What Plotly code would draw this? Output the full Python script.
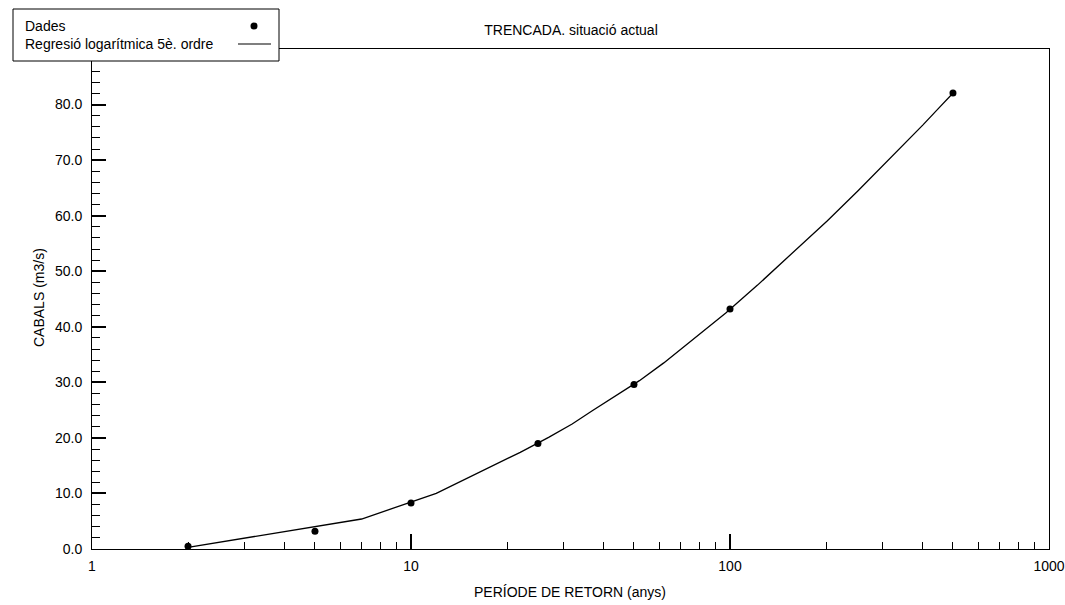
import plotly.graph_objects as go

# ---- data ----
period_data = [2, 5, 10, 25, 50, 100, 500]
flow_data = [0.5, 3.2, 8.3, 19.0, 29.6, 43.2, 82.1]

period_fit = [2, 7, 12, 17, 22, 27, 32, 37, 42, 47, 52, 62, 72, 82, 97,
              122, 152, 202, 252, 302, 352, 402, 452, 497]
flow_fit = [0.3, 5.4, 10.0, 14.2, 17.4, 20.1, 22.5, 24.9, 26.9, 28.6, 30.3,
            33.5, 36.5, 39.1, 42.5, 47.5, 52.5, 59.1, 64.5, 69.0, 72.9,
            76.3, 79.4, 81.9]

x_major_vals = [1, 10, 100, 1000]
x_major_text = ["1", "10", "100", "1000"]
x_minor_vals = [2, 3, 4, 5, 6, 7, 8, 9, 20, 30, 40, 50, 60, 70, 80, 90,
                200, 300, 400, 500, 600, 700, 800, 900]
y_major_vals = [0, 10, 20, 30, 40, 50, 60, 70, 80]
y_major_text = ["%.1f" % v for v in y_major_vals]
y_minor_vals = [v for v in range(2, 90, 2) if v % 10 != 0]

title_text = "TRENCADA. situació actual"
x_title = "PERÍODE DE RETORN (anys)"
y_title = "CABALS (m3/s)"
legend_names = ["Dades", "Regresió logarítmica 5è. ordre"]

FONT = "Liberation Sans, Arial, sans-serif"
FS = 14

fig = go.Figure()
fig.add_trace(go.Scatter(x=period_fit, y=flow_fit, mode="lines",
                         line=dict(color="black", width=1.3),
                         name=legend_names[1], cliponaxis=False,
                         showlegend=False))
fig.add_trace(go.Scatter(x=period_data, y=flow_data, mode="markers",
                         marker=dict(color="black", size=7),
                         name=legend_names[0], cliponaxis=False,
                         showlegend=False))

W, H = 1065, 605
L, R, T, B = 92, 16, 49, 56
pw, ph = W - L - R, H - T - B


def px(xp):
    return (xp - L) / pw


def py(yp):
    return (H - B - yp) / ph


fig.update_layout(
    width=W, height=H,
    margin=dict(l=L, r=R, t=T, b=B, pad=0, autoexpand=False),
    paper_bgcolor="white", plot_bgcolor="white",
    font=dict(family=FONT, size=FS, color="black"),
    showlegend=False,
    title=dict(text=title_text, x=px(571), xref="paper", xanchor="center",
               y=1 - 30 / H, yref="container", yanchor="middle",
               font=dict(family=FONT, size=FS, color="black")),
    xaxis=dict(type="log", range=[0, 3], showgrid=False, zeroline=False,
               automargin=False,
               showline=True, linecolor="black", linewidth=1, mirror=True,
               tickmode="array", tickvals=x_major_vals, ticktext=x_major_text,
               ticks="inside", ticklen=15, tickwidth=2, tickcolor="black",
               ticklabelstandoff=4,
               minor=dict(tickmode="array", tickvals=x_minor_vals,
                          ticks="inside", ticklen=7, tickwidth=1,
                          tickcolor="black", showgrid=False)),
    yaxis=dict(range=[0, 90], showgrid=False, zeroline=False,
               automargin=False,
               showline=True, linecolor="black", linewidth=1, mirror=True,
               tickmode="array", tickvals=y_major_vals, ticktext=y_major_text,
               ticks="inside", ticklen=14, tickwidth=1.5, tickcolor="black",
               ticklabelstandoff=6,
               minor=dict(tickmode="array", tickvals=y_minor_vals,
                          ticks="inside", ticklen=8, tickwidth=1,
                          tickcolor="black", showgrid=False)),
)

# axis titles
fig.add_annotation(text=x_title, xref="paper", yref="paper",
                   x=px(570), y=py(592), xanchor="center", yanchor="middle",
                   showarrow=False, font=dict(family=FONT, size=FS))
fig.add_annotation(text=y_title, xref="paper", yref="paper",
                   x=px(39), y=py(298), xanchor="center", yanchor="middle",
                   textangle=-90, showarrow=False,
                   font=dict(family=FONT, size=FS))

# legend box (symbols on the right, as in the reference)
fig.add_shape(type="rect", xref="paper", yref="paper",
              x0=px(13), x1=px(279), y0=py(61), y1=py(9),
              line=dict(color="black", width=1), fillcolor="white",
              layer="above")
fig.add_annotation(text=legend_names[0], xref="paper", yref="paper",
                   x=px(23), y=py(26), xanchor="left", yanchor="middle",
                   showarrow=False, font=dict(family=FONT, size=FS))
fig.add_annotation(text=legend_names[1], xref="paper", yref="paper",
                   x=px(23), y=py(44), xanchor="left", yanchor="middle",
                   showarrow=False, font=dict(family=FONT, size=FS))
fig.add_shape(type="circle", xref="paper", yref="paper",
              xsizemode="pixel", ysizemode="pixel",
              xanchor=px(254), yanchor=py(26),
              x0=-3.5, x1=3.5, y0=-3.5, y1=3.5,
              fillcolor="black", line=dict(color="black", width=0),
              layer="above")
fig.add_shape(type="line", xref="paper", yref="paper",
              x0=px(238), x1=px(271), y0=py(44), y1=py(44),
              line=dict(color="black", width=1.2), layer="above")

fig.write_html("out.html")
